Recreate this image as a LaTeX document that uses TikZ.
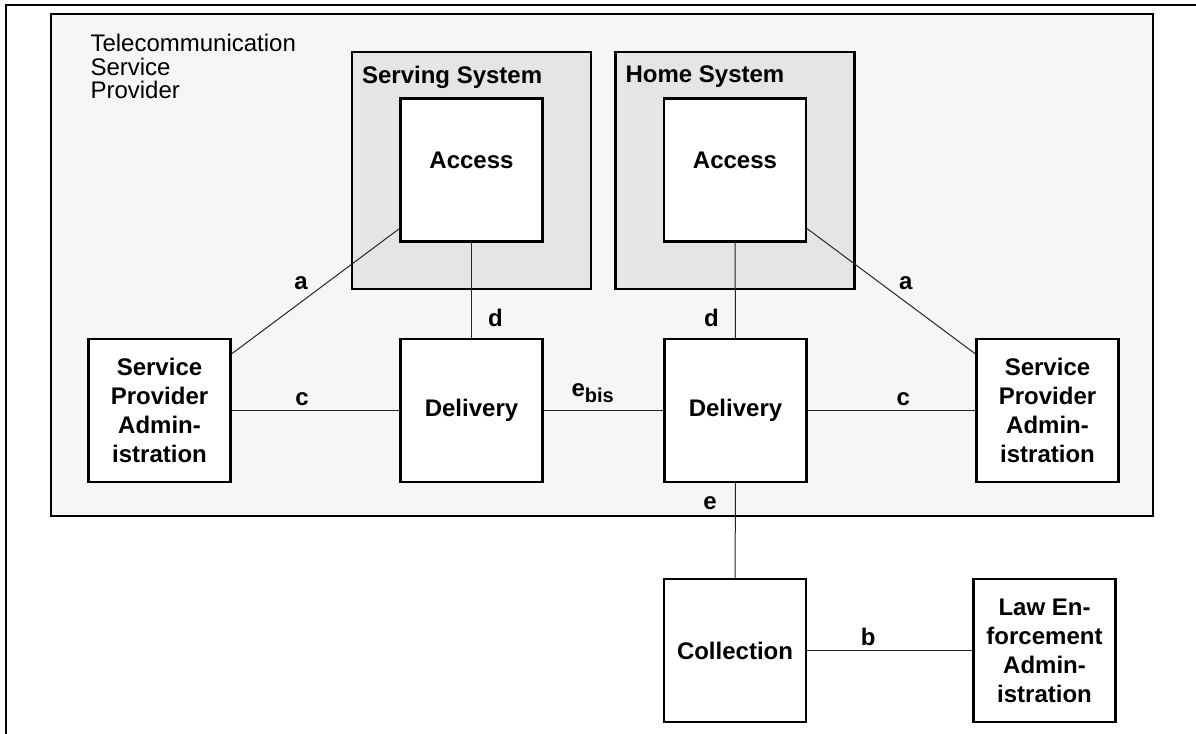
\documentclass[tikz,border=0pt]{standalone}
\usepackage{fontspec}
\setmainfont{Liberation Sans}
\usetikzlibrary{positioning}
\definecolor{tspgray}{gray}{0.965}
\definecolor{sysgray}{gray}{0.9}
\begin{document}
\begin{tikzpicture}[x=0.5pt, y=-0.5pt,
  tsp/.style={draw, line width=1pt, fill=tspgray, minimum width=551pt, minimum height=251pt, inner sep=0pt},
  sistema/.style={draw, line width=1.1pt, fill=sysgray, minimum width=119.5pt, minimum height=118.5pt, inner sep=0pt},
  caja/.style={draw, line width=1.1pt, fill=white, minimum width=71pt, minimum height=71.5pt, inner sep=0pt,
    align=center, font=\bfseries\fontsize{12}{14.5}\selectfont},
  titulo/.style={inner sep=0pt, outer sep=0pt, font=\bfseries\fontsize{12}{14}\selectfont},
  enlace/.style={line width=0.5pt, draw=black!85},
  etiq/.style={inner sep=2pt, font=\bfseries\fontsize{12}{14}\selectfont}]
  \useasboundingbox (0,0) rectangle (1196,734);
  \draw[line width=1pt] (6,734) -- (6,5) -- (1196,5);

  % Contenedores
  \node[tsp] (tsp) at (602,265) {};
  \node[titulo, font=\fontsize{12}{11.75}\selectfont, align=left, below right=10.75pt and 20.25pt of tsp.north west] (tsptxt)
    {Telecommunication\\Service\\Provider};
  \node[sistema] (serv) at (471.5,170.5) {};
  \node[sistema] (home) at (735,170.5) {};
  \node[titulo, below right=7.6pt and 5.6pt of serv.north west] (servtxt) {Serving System};
  \node[titulo, below right=7.6pt and 5.6pt of home.north west] (hometxt) {Home System};

  % Cajas
  \node[caja, text depth=9.5pt] (acc1) at (471.5,170) {Access};
  \node[caja, text depth=9.5pt] (acc2) at (735,170) {Access};
  \node[caja] (del1) at (471.5,410.5) {Delivery};
  \node[caja] (del2) at (735.5,410.5) {Delivery};
  \node[caja] (spa1) at (159.5,410.5) {Service\\Provider\\Admin-\\istration};
  \node[caja] (spa2) at (1047.5,410.5) {Service\\Provider\\Admin-\\istration};
  \node[caja] (coll) at (735,650.5) {Collection};
  \node[caja] (lea) at (1044.5,650.5) {Law En-\\forcement\\Admin-\\istration};

  % Enlaces
  \draw[enlace] ([yshift=-8pt]spa1.north east) -- node[etiq, above left, pos=0.48] {a} ([yshift=7pt]acc1.south west);
  \draw[enlace] (acc1) -- node[etiq, right=6pt, pos=0.79] {d} (del1);
  \draw[enlace] (spa1) -- node[etiq, above, pos=0.42] {c} (del1);
  \draw[enlace] (del1) -- node[etiq, above=1.5pt, pos=0.41] {e\raisebox{-3pt}{\fontsize{10}{10}\selectfont bis}} (del2);
  \draw[enlace] (acc2) -- node[etiq, left=6pt, pos=0.79] {d} (del2);
  \draw[enlace] ([yshift=7pt]acc2.south east) -- node[etiq, above right, pos=0.52] {a} ([yshift=-8pt]spa2.north west);
  \draw[enlace] (del2) -- node[etiq, above, pos=0.57] {c} (spa2);
  \draw[enlace] (del2) -- node[etiq, left=7pt, pos=0.21] {e} (coll);
  \draw[enlace] (coll) -- node[etiq, above, pos=0.37] {b} (lea);
\end{tikzpicture}
\end{document}
